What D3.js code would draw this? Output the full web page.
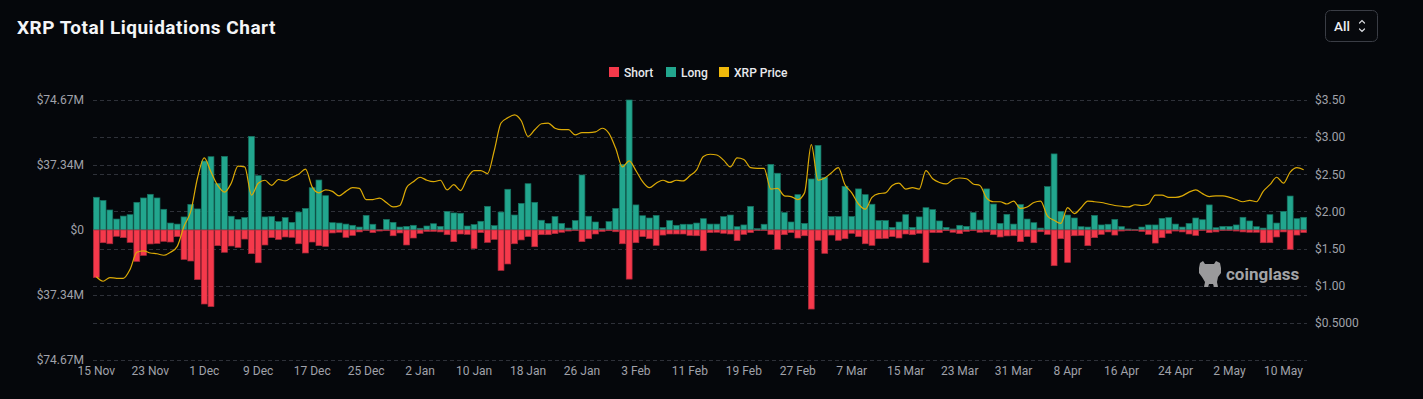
<!DOCTYPE html>
<html>
<head>
<meta charset="utf-8">
<script src="https://cdn.jsdelivr.net/npm/d3@7/dist/d3.min.js"></script>
<style>
  html, body { margin: 0; padding: 0; background: #05070b; }
  svg { display: block; }
</style>
</head>
<body>
<svg id="chart" width="1423" height="399"></svg>
<script>
// ---------- DATA ----------
const startDate = new Date(2024, 10, 15);
const endDate = new Date(2025, 4, 14);
const dates = d3.timeDay.range(startDate, endDate); // 15 Nov 2024 .. 13 May 2025

// Long liquidations (USD millions)
const longValues = [
  18.8,17.0,11.5,6.3,8.0,8.8,15.9,18.4,20.5,18.4,11.9,4.0,3.4,7.5,14.7,12.1,39.6,42.1,26.8,42.3,
  7.9,6.1,7.1,53.8,31.2,7.5,7.7,4.8,7.1,4.4,10.3,12.4,24.3,28.7,19.7,4.2,4.0,3.4,2.7,1.7,
  8.4,3.3,0.2,6.1,4.4,1.7,2.1,2.7,1.0,2.3,3.6,2.1,10.7,9.8,9.6,2.3,3.1,5.0,13.6,2.5,
  10.3,23.4,8.6,15.3,26.6,15.9,5.6,3.8,7.7,3.8,1.1,5.4,31.6,7.9,4.6,0.8,4.8,12.4,37.7,74.67,
  14.4,8.2,6.9,8.4,1.5,5.4,2.7,3.3,3.3,4.0,6.5,3.4,3.4,7.7,8.6,1.9,2.9,13.6,0.8,3.3,
  37.7,32.6,10.0,4.6,20.3,3.8,29.3,48.6,30.1,7.7,7.7,25.1,7.7,23.6,20.3,14.8,5.4,5.4,1.5,4.6,
  8.8,1.5,7.5,12.8,11.7,5.2,1.5,0.6,2.7,2.1,10.0,5.7,23.6,14.9,3.8,9.0,3.4,14.6,6.3,4.2,
  1.1,24.9,43.7,10.7,8.6,6.9,1.9,1.7,8.4,2.9,3.3,6.1,1.9,0.6,0.4,1.7,2.9,2.9,6.7,7.1,
  3.4,1.7,3.8,6.9,5.9,14.4,1.3,2.1,2.1,2.9,7.3,5.2,1.9,1.1,8.8,4.0,10.7,19.5,6.5,7.3
];

// Short liquidations (USD millions)
const shortValues = [
  27.2,7.3,7.9,3.6,4.4,7.1,18.0,14.6,8.0,7.7,6.5,6.9,3.8,16.9,17.8,28.5,42.5,44.0,9.0,12.8,
  9.2,10.0,5.2,13.6,18.8,8.6,4.4,5.4,4.0,4.2,7.9,13.2,6.9,9.0,9.4,1.7,1.3,4.2,3.1,1.1,
  0.2,1.5,0.6,0.4,3.3,1.7,8.6,4.6,1.9,0.8,0.8,1.1,2.7,6.7,2.3,2.5,10.7,1.5,7.1,5.4,
  23.2,19.5,7.9,5.7,3.8,9.6,2.7,2.7,2.1,1.3,0.6,0.2,6.7,5.0,2.3,0.8,0.4,1.0,7.9,28.2,
  7.3,3.8,5.0,8.8,2.9,2.3,2.3,2.3,3.1,3.3,11.9,1.5,1.3,1.9,2.3,6.1,2.5,1.5,0.2,0.2,
  2.5,11.1,2.7,1.5,4.6,3.3,45.4,5.9,13.4,2.9,5.9,5.0,1.9,3.8,7.9,8.8,5.0,4.8,3.8,4.6,
  2.3,2.7,1.9,18.6,1.5,1.5,0.4,1.3,2.1,0.8,0.4,1.3,1.1,2.7,4.0,3.4,3.3,6.7,3.8,7.3,
  1.0,2.5,20.5,5.0,18.6,3.3,3.1,9.0,4.4,2.5,1.1,2.9,0.6,0.2,0.2,0.8,2.5,7.5,4.4,1.9,
  0.6,1.1,2.3,3.1,0.2,1.5,1.1,0.2,0.2,0.6,1.1,1.3,1.3,7.3,7.3,4.0,1.1,11.1,2.9,1.5
];

// XRP price (USD)
const priceValues = [
  1.12,1.06,1.11,1.10,1.10,1.22,1.45,1.47,1.44,1.43,1.41,1.45,1.53,1.80,2.00,2.45,2.72,2.53,2.35,2.26,
  2.38,2.61,2.60,2.22,2.38,2.42,2.35,2.43,2.41,2.46,2.50,2.57,2.33,2.25,2.29,2.27,2.21,2.27,2.32,2.31,
  2.16,2.16,2.18,2.12,2.06,2.08,2.32,2.40,2.46,2.42,2.40,2.42,2.29,2.36,2.28,2.45,2.55,2.55,2.51,2.82,
  3.19,3.26,3.30,3.22,3.01,3.10,3.18,3.19,3.12,3.10,3.10,3.03,3.06,3.06,3.07,3.12,3.05,2.85,2.60,2.68,
  2.55,2.40,2.32,2.38,2.42,2.39,2.42,2.41,2.48,2.56,2.74,2.77,2.76,2.69,2.60,2.72,2.70,2.59,2.58,2.58,
  2.30,2.31,2.21,2.20,2.16,2.25,2.90,2.42,2.45,2.52,2.59,2.36,2.25,2.10,2.03,2.19,2.24,2.25,2.35,2.38,
  2.30,2.32,2.30,2.55,2.44,2.39,2.37,2.43,2.45,2.44,2.37,2.35,2.18,2.13,2.13,2.10,2.14,2.04,2.06,2.12,
  2.14,1.94,1.88,1.84,2.05,1.97,2.05,2.14,2.13,2.12,2.10,2.08,2.07,2.06,2.09,2.08,2.10,2.22,2.22,2.19,
  2.19,2.21,2.26,2.29,2.24,2.20,2.21,2.21,2.19,2.16,2.13,2.15,2.13,2.27,2.36,2.46,2.38,2.53,2.59,2.56
];

const xTickLabels = ["15 Nov","23 Nov","1 Dec","9 Dec","17 Dec","25 Dec","2 Jan","10 Jan","18 Jan","26 Jan",
  "3 Feb","11 Feb","19 Feb","27 Feb","7 Mar","15 Mar","23 Mar","31 Mar","8 Apr","16 Apr","24 Apr","2 May","10 May"];
const leftTicks = [74.67, 37.34, 0, -37.34, -74.67];
const leftTickLabels = ["$74.67M","$37.34M","$0","$37.34M","$74.67M"];
const rightTicks = [3.5, 3.0, 2.5, 2.0, 1.5, 1.0, 0.5];
const rightTickLabels = ["$3.50","$3.00","$2.50","$2.00","$1.50","$1.00","$0.5000"];
const legendNames = ["Short","Long","XRP Price"];

// ---------- STYLE ----------
const C = {
  bg: "#05070b",
  short: "#f5394b",
  shortStroke: "#a8283a",
  long: "#22a68e",
  longStroke: "#16705f",
  price: "#dcaa06",
  legendPrice: "#f0b90b",
  grid: "#2e3139",
  tick: "#a0a2aa",
  text: "#e9eaee"
};
const FONT = "Roboto, 'Noto Sans', 'DejaVu Sans', sans-serif";

const svg = d3.select("#chart");
svg.append("rect").attr("width", 1423).attr("height", 399).attr("fill", C.bg);

const plot = { left: 93, right: 1307, top: 100, bottom: 360 };

const fmtDay = d3.timeFormat("%-d %b");
const keys = dates.map(d => fmtDay(d));

const x = d3.scaleBand().domain(keys).range([plot.left, plot.right]).paddingInner(0.13).paddingOuter(0.06);
const yL = d3.scaleLinear().domain([-74.67, 74.67]).range([plot.bottom, plot.top]);
const yR = d3.scaleLinear().domain([0, 3.5]).range([plot.bottom, plot.top]);

// ---------- GRID ----------
const grid = svg.append("g");
leftTicks.forEach(v => {
  grid.append("line").attr("x1", plot.left).attr("x2", plot.right)
    .attr("y1", Math.round(yL(v)) + 0.5).attr("y2", Math.round(yL(v)) + 0.5)
    .attr("stroke", C.grid).attr("stroke-dasharray", "4,3");
});
rightTicks.concat([0]).forEach(v => {
  grid.append("line").attr("x1", plot.left).attr("x2", plot.right)
    .attr("y1", Math.round(yR(v)) + 0.5).attr("y2", Math.round(yR(v)) + 0.5)
    .attr("stroke", C.grid).attr("stroke-dasharray", "4,3");
});

// ---------- AXES ----------
const axL = d3.axisLeft(yL).tickValues(leftTicks).tickSize(0).tickPadding(0)
  .tickFormat((d, i) => leftTickLabels[i]);
const gL = svg.append("g").attr("transform", `translate(${84},0)`).call(axL);
gL.select(".domain").remove();
gL.selectAll("text").attr("fill", C.tick).attr("font-family", FONT).attr("font-size", 12).attr("dy", "0.32em");

const axR = d3.axisRight(yR).tickValues(rightTicks).tickSize(0).tickPadding(0)
  .tickFormat((d, i) => rightTickLabels[i]);
const gR = svg.append("g").attr("transform", `translate(${1315},0)`).call(axR);
gR.select(".domain").remove();
gR.selectAll("text").attr("fill", C.tick).attr("font-family", FONT).attr("font-size", 12).attr("dy", "0.32em");

const tickKeys = keys.filter((k, i) => i % 8 === 0);
const axB = d3.axisBottom(x).tickValues(tickKeys).tickSize(0).tickPadding(0)
  .tickFormat((d, i) => xTickLabels[i]);
const gB = svg.append("g").attr("transform", `translate(0,${366})`).call(axB);
gB.select(".domain").remove();
gB.selectAll("text").attr("fill", C.tick).attr("font-family", FONT).attr("font-size", 12).attr("dy", "0.71em");

// ---------- BARS ----------
const bars = svg.append("g");
bars.selectAll("rect.long").data(longValues).join("rect")
  .attr("class", "long")
  .attr("x", (d, i) => x(keys[i]))
  .attr("width", x.bandwidth())
  .attr("y", d => yL(d))
  .attr("height", d => yL(0) - yL(d))
  .attr("fill", C.long)
  .attr("stroke", C.longStroke).attr("stroke-width", 0.7);

bars.selectAll("rect.short").data(shortValues).join("rect")
  .attr("class", "short")
  .attr("x", (d, i) => x(keys[i]))
  .attr("width", x.bandwidth())
  .attr("y", yL(0))
  .attr("height", d => yL(-d) - yL(0))
  .attr("fill", C.short)
  .attr("stroke", C.shortStroke).attr("stroke-width", 0.7);

// ---------- PRICE LINE ----------
const line = d3.line()
  .x((d, i) => x(keys[i]) + x.bandwidth() / 2)
  .y(d => yR(d))
  .curve(d3.curveMonotoneX);
svg.append("path").datum(priceValues)
  .attr("d", line).attr("fill", "none")
  .attr("stroke", C.price).attr("stroke-width", 1.2);

// ---------- TITLE ----------
svg.append("text").attr("x", 17).attr("y", 34)
  .attr("font-family", FONT).attr("font-weight", 700).attr("font-size", 19)
  .attr("fill", "#f4f5f7").attr("letter-spacing", "0.5")
  .text("XRP Total Liquidations Chart");

// ---------- LEGEND ----------
const legendColors = [C.short, C.long, C.legendPrice];
const legendX = [609, 666, 719];
const legend = svg.append("g");
legendNames.forEach((n, i) => {
  legend.append("rect").attr("x", legendX[i]).attr("y", 67).attr("width", 10).attr("height", 10)
    .attr("fill", legendColors[i]);
  legend.append("text").attr("x", legendX[i] + 15).attr("y", 76.5)
    .attr("font-family", FONT).attr("font-weight", 500).attr("font-size", 12)
    .attr("fill", C.text).text(n);
});

// ---------- "All" selector ----------
const sel = svg.append("g");
sel.append("rect").attr("x", 1325.5).attr("y", 10.5).attr("width", 52).attr("height", 31).attr("rx", 5)
  .attr("fill", "#07090d").attr("stroke", "#3a3d45");
sel.append("text").attr("x", 1334).attr("y", 31).attr("font-family", FONT).attr("font-size", 13.5)
  .attr("font-weight", 500).attr("fill", "#eceef2").text("All");
sel.append("path").attr("d", "M1359.5,23 L1362,20.5 L1364.5,23 M1359.5,29 L1362,31.5 L1364.5,29")
  .attr("fill", "none").attr("stroke", "#d8dade").attr("stroke-width", 1.2).attr("stroke-linecap", "round");

// ---------- WATERMARK ----------
const wm = svg.append("g").attr("fill", "#9a9a9c");
wm.append("path").attr("d",
  "M1200,263 L1203,261 L1205,264 L1214,264 L1216,261 L1220,263 L1221,268 L1221,273 L1218,277 " +
  "L1217,282 L1218,287 L1214,287 L1213,284 L1209,284 L1208,287 L1204,287 L1205,282 L1202,277 L1199,273 L1199,268 Z");
svg.append("text").attr("x", 1226).attr("y", 280)
  .attr("font-family", FONT).attr("font-size", 17).attr("font-weight", 700)
  .attr("fill", "#a2a3a6").text("coinglass");
</script>
</body>
</html>
